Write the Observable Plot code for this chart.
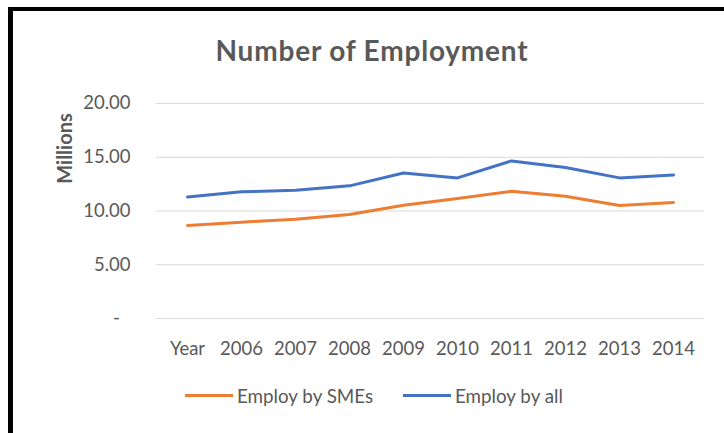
<!DOCTYPE html>
<html>
<head>
<meta charset="utf-8">
<script src="https://cdn.jsdelivr.net/npm/d3@7"></script>
<script src="https://cdn.jsdelivr.net/npm/@observablehq/plot@0.6"></script>
<style>
  html, body { margin: 0; padding: 0; background: #fff; }
  #wrap { position: relative; width: 724px; height: 433px; overflow: hidden; background: #fff; font-family: Lato, "Open Sans", sans-serif; color: #595959; }
  .bar { position: absolute; background: #000; }
  #title { position: absolute; left: 372px; top: 33px; transform: translateX(-50%); white-space: nowrap; font-weight: bold; font-size: 28px; letter-spacing: 0.8px; color: #595959; }
  #chart { position: absolute; left: 0; top: 80px; }
  .sw { position: absolute; height: 3px; }
  .lt { position: absolute; font-size: 18.8px; line-height: 22px; white-space: nowrap; color: #595959; }
</style>
</head>
<body>
<div id="wrap">
  <div class="bar" style="left:8px;top:7px;width:716px;height:4px;"></div>
  <div class="bar" style="left:8px;top:7px;width:5px;height:426px;"></div>
  <div id="title">Number of Employment</div>
  <div id="chart"></div>
  <div class="sw" style="left:185px;top:394px;width:48px;background:#ED7D31;"></div>
  <div class="lt" style="left:237px;top:385px;">Employ by SMEs</div>
  <div class="sw" style="left:403px;top:394px;width:48px;background:#4472C4;"></div>
  <div class="lt" style="left:455px;top:385px;">Employ by all</div>
</div>
<script>
const categories = ["Year", "2006", "2007", "2008", "2009", "2010", "2011", "2012", "2013", "2014"];
const employBySMEs = [8.65, 8.96, 9.24, 9.67, 10.54, 11.16, 11.84, 11.38, 10.51, 10.79];
const employByAll = [11.31, 11.78, 11.93, 12.34, 13.54, 13.08, 14.66, 14.05, 13.08, 13.36];
const yTicks = [0, 5, 10, 15, 20];
const seriesNames = ["Employ by SMEs", "Employ by all"];
const seriesColors = ["#ED7D31", "#4472C4"];

const data = [];
categories.forEach((c, i) => {
  data.push({cat: c, value: employBySMEs[i], series: seriesNames[0]});
  data.push({cat: c, value: employByAll[i], series: seriesNames[1]});
});

const chart = Plot.plot({
  width: 724,
  height: 290,
  marginLeft: 156,
  marginRight: 20,
  marginTop: 23,
  marginBottom: 52,
  style: {fontFamily: "Lato, 'Open Sans', sans-serif", fontSize: "18.5px", color: "#595959", background: "transparent"},
  x: {type: "point", domain: categories, padding: 0.5},
  y: {domain: [0, 20]},
  color: {domain: seriesNames, range: seriesColors},
  marks: [
    Plot.gridY(yTicks, {stroke: "#d9d9d9", strokeOpacity: 1, strokeWidth: 1}),
    Plot.axisY(yTicks, {tickSize: 0, tickPadding: 26, label: null, tickFormat: d => d === 0 ? "-\u2007" : d.toFixed(2), fontSize: 18.5}),
    Plot.axisX({tickSize: 0, tickPadding: 23, label: null, fontSize: 18.5}),
    Plot.line(data, {x: "cat", y: "value", z: "series", stroke: "series", strokeWidth: 3, strokeLinejoin: "round", strokeLinecap: "round"}),
    Plot.text(["Millions"], {frameAnchor: "top-left", dx: -99, dy: 45, rotate: -90, textAnchor: "middle", fontSize: 20, fontWeight: "bold", fill: "#595959"})
  ]
});
document.getElementById("chart").appendChild(chart);
</script>
</body>
</html>
